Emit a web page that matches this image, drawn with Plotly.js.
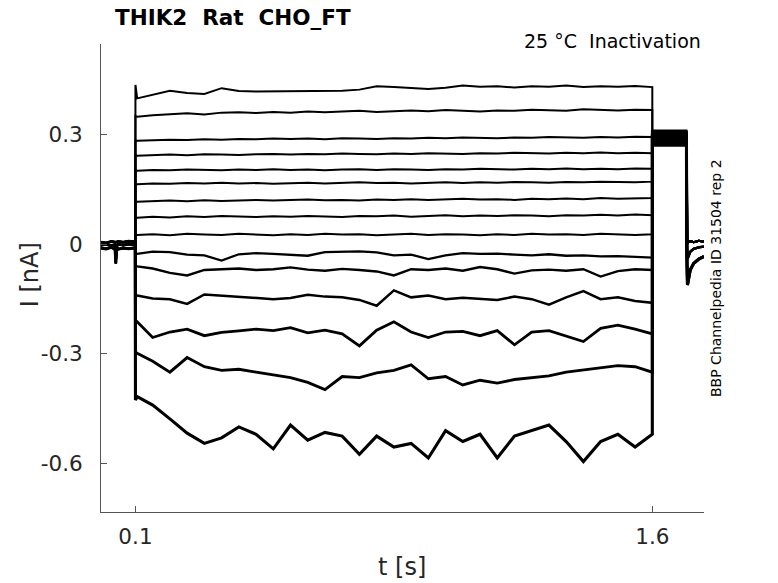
<!DOCTYPE html>
<html>
<head>
<meta charset="utf-8">
<script src="https://cdn.plot.ly/plotly-3.0.1.min.js"></script>
<style>
html, body { margin: 0; padding: 0; background: #fff; }
#graph { width: 778px; height: 583px; }
</style>
</head>
<body>
<div id="graph"></div>
<script>
// holding level before the step (three overlapping groups of sweeps)
var tPre = [0, 0.015, 0.03, 0.04, 0.043, 0.046, 0.05, 0.065, 0.08, 0.0995];
var preA = [0.006, 0.004, 0.008, 0.005, 0.006, 0.007, 0.008, 0.006, 0.009, 0.007];
var preB = [-0.002, 0.000, -0.003, -0.001, -0.052, -0.004, 0.000, -0.002, 0.001, -0.001];
var preC = [-0.010, -0.012, -0.008, -0.011, -0.014, -0.009, -0.013, -0.010, -0.012, -0.009];

// conditioning step 0.1 .. 1.6 s
var tOn = [0.1, 0.105, 0.15, 0.2, 0.25, 0.3, 0.35, 0.4, 0.45, 0.5, 0.55, 0.6, 0.65, 0.7, 0.75, 0.8,
           0.85, 0.9, 0.95, 1.0, 1.05, 1.1, 1.15, 1.2, 1.25, 1.3, 1.35, 1.4, 1.45, 1.5, 1.55, 1.6];
var i1 = [0.437, 0.400, 0.410, 0.421, 0.415, 0.412, 0.428, 0.420, 0.419, 0.419, 0.421, 0.419, 0.420, 0.421, 0.424, 0.433, 0.431, 0.428, 0.426, 0.429, 0.435, 0.432, 0.433, 0.430, 0.433, 0.432, 0.435, 0.431, 0.433, 0.432, 0.434, 0.431];
var i2 = [0.352, 0.350, 0.354, 0.357, 0.359, 0.356, 0.361, 0.362, 0.360, 0.363, 0.361, 0.364, 0.362, 0.364, 0.366, 0.363, 0.366, 0.367, 0.365, 0.368, 0.366, 0.364, 0.367, 0.366, 0.369, 0.367, 0.366, 0.370, 0.368, 0.367, 0.369, 0.368];
var i3 = [0.285, 0.284, 0.286, 0.287, 0.286, 0.288, 0.287, 0.289, 0.288, 0.290, 0.289, 0.290, 0.288, 0.291, 0.290, 0.289, 0.291, 0.290, 0.292, 0.291, 0.293, 0.292, 0.291, 0.293, 0.292, 0.294, 0.293, 0.292, 0.294, 0.293, 0.295, 0.294];
var i4 = [0.244, 0.243, 0.245, 0.246, 0.244, 0.247, 0.246, 0.245, 0.247, 0.248, 0.246, 0.248, 0.247, 0.249, 0.248, 0.247, 0.249, 0.248, 0.250, 0.249, 0.248, 0.250, 0.249, 0.251, 0.250, 0.249, 0.251, 0.250, 0.252, 0.250, 0.251, 0.250];
var i5 = [0.203, 0.202, 0.204, 0.203, 0.205, 0.204, 0.203, 0.205, 0.204, 0.206, 0.204, 0.205, 0.203, 0.205, 0.206, 0.204, 0.206, 0.205, 0.204, 0.206, 0.205, 0.207, 0.206, 0.205, 0.207, 0.206, 0.208, 0.206, 0.207, 0.206, 0.208, 0.207];
var i6 = [0.166, 0.165, 0.167, 0.166, 0.168, 0.167, 0.169, 0.167, 0.168, 0.166, 0.168, 0.169, 0.167, 0.168, 0.170, 0.168, 0.169, 0.167, 0.169, 0.170, 0.168, 0.170, 0.169, 0.171, 0.170, 0.169, 0.171, 0.170, 0.172, 0.171, 0.170, 0.172];
var i7 = [0.118, 0.117, 0.119, 0.120, 0.118, 0.121, 0.119, 0.120, 0.122, 0.120, 0.121, 0.123, 0.121, 0.122, 0.120, 0.123, 0.122, 0.124, 0.122, 0.123, 0.125, 0.123, 0.124, 0.122, 0.125, 0.124, 0.126, 0.124, 0.127, 0.125, 0.126, 0.127];
var i8 = [0.074, 0.073, 0.076, 0.074, 0.077, 0.075, 0.078, 0.076, 0.075, 0.077, 0.076, 0.078, 0.077, 0.075, 0.078, 0.077, 0.079, 0.076, 0.078, 0.080, 0.077, 0.079, 0.078, 0.080, 0.079, 0.077, 0.080, 0.079, 0.081, 0.079, 0.082, 0.080];
var i9 = [0.027, 0.026, 0.028, 0.025, 0.029, 0.027, 0.026, 0.029, 0.027, 0.025, 0.028, 0.026, 0.029, 0.027, 0.028, 0.025, 0.027, 0.029, 0.026, 0.028, 0.027, 0.025, 0.028, 0.026, 0.029, 0.027, 0.028, 0.026, 0.029, 0.027, 0.026, 0.028];
var i10 = [-0.024, -0.026, -0.020, -0.021, -0.028, -0.030, -0.044, -0.027, -0.024, -0.026, -0.029, -0.031, -0.021, -0.020, -0.019, -0.022, -0.030, -0.028, -0.040, -0.030, -0.024, -0.026, -0.025, -0.028, -0.030, -0.027, -0.031, -0.030, -0.033, -0.032, -0.035, -0.036];
var i11 = [-0.058, -0.060, -0.066, -0.078, -0.085, -0.070, -0.068, -0.066, -0.070, -0.068, -0.063, -0.069, -0.072, -0.067, -0.070, -0.074, -0.085, -0.068, -0.070, -0.066, -0.072, -0.062, -0.068, -0.080, -0.071, -0.069, -0.072, -0.068, -0.088, -0.073, -0.068, -0.070];
var i12 = [-0.138, -0.140, -0.148, -0.150, -0.163, -0.137, -0.140, -0.144, -0.146, -0.150, -0.147, -0.138, -0.143, -0.145, -0.152, -0.168, -0.126, -0.145, -0.140, -0.150, -0.146, -0.148, -0.152, -0.143, -0.150, -0.165, -0.145, -0.128, -0.150, -0.145, -0.155, -0.160];
var i13 = [-0.208, -0.212, -0.255, -0.240, -0.232, -0.250, -0.241, -0.237, -0.232, -0.236, -0.228, -0.242, -0.235, -0.245, -0.278, -0.235, -0.212, -0.240, -0.255, -0.240, -0.238, -0.250, -0.236, -0.275, -0.240, -0.236, -0.252, -0.266, -0.230, -0.221, -0.232, -0.245];
var i14 = [-0.295, -0.298, -0.320, -0.350, -0.310, -0.335, -0.345, -0.342, -0.350, -0.358, -0.365, -0.378, -0.398, -0.362, -0.365, -0.352, -0.345, -0.330, -0.368, -0.362, -0.385, -0.372, -0.380, -0.370, -0.365, -0.360, -0.350, -0.344, -0.338, -0.332, -0.335, -0.350];
var i15 = [-0.426, -0.417, -0.440, -0.478, -0.517, -0.545, -0.530, -0.500, -0.520, -0.560, -0.495, -0.536, -0.515, -0.525, -0.575, -0.525, -0.555, -0.545, -0.585, -0.510, -0.540, -0.520, -0.585, -0.525, -0.510, -0.495, -0.540, -0.595, -0.540, -0.520, -0.555, -0.520];

// test pulse 1.6 .. 1.7 s
var tPost = [1.6, 1.699];
var postLevel = [0.312, 0.305, 0.298, 0.292, 0.288, 0.284, 0.280, 0.277, 0.274, 0.271, 0.282, 0.290, 0.300, 0.308, 0.295];

// back to holding
var tTail = [1.7, 1.702, 1.71, 1.72, 1.735, 1.75];
var tailFlat = [0.008, 0.004, 0.009, 0.006, 0.010, 0.007];
var tailMid = [-0.004, -0.040, -0.020, -0.012, -0.008, -0.006];
var tailDeep = [-0.020, -0.111, -0.070, -0.052, -0.040, -0.033];

function createGraph() {
  const graph = document.querySelector('#graph');
  var sweeps = [i1, i2, i3, i4, i5, i6, i7, i8, i9, i10, i11, i12, i13, i14, i15];
  var widths = [2, 2, 2, 2, 2, 2, 2, 2, 2, 2.3, 2.4, 2.5, 2.8, 2.9, 3.1];
  var pres = [preA, preB, preC, preA, preB, preC, preA, preB, preC, preA, preB, preC, preA, preB, preC];
  var tails = [tailFlat, tailFlat, tailFlat, tailFlat, tailFlat, tailFlat, tailFlat, tailFlat, tailFlat,
               tailMid, tailMid, tailMid, tailDeep, tailDeep, tailDeep];

  var data = [];
  for (var k = 0; k < sweeps.length; k++) {
    data.push({
      x: tPre.concat(tOn, tPost, tTail),
      y: pres[k].concat(sweeps[k], [postLevel[k], postLevel[k]], tails[k]),
      type: 'scatter',
      mode: 'lines',
      line: { color: 'black', width: widths[k] },
      hoverinfo: 'skip'
    });
  }

  var axisFont = { family: 'DejaVu Sans', size: 21.5, color: '#262626' };

  var layout = {
    width: 778,
    height: 583,
    margin: { l: 101, r: 74, t: 44, b: 71 },
    paper_bgcolor: 'white',
    plot_bgcolor: 'white',
    showlegend: false,
    font: { family: 'DejaVu Sans', color: '#262626' },
    xaxis: {
      range: [0, 1.75],
      tickvals: [0.1, 1.6],
      ticktext: ['0.1', '1.6'],
      ticks: 'inside',
      ticklen: 6,
      tickcolor: '#555',
      tickfont: axisFont,
      ticklabelstandoff: 5,
      showline: true,
      linecolor: '#555',
      linewidth: 1,
      showgrid: false,
      zeroline: false
    },
    yaxis: {
      range: [-0.733, 0.549],
      tickvals: [-0.6, -0.3, 0, 0.3],
      ticktext: ['-0.6', '-0.3', '0', '0.3'],
      ticks: 'inside',
      ticklen: 6,
      tickcolor: '#555',
      tickfont: axisFont,
      ticklabelstandoff: 13,
      showline: true,
      linecolor: '#555',
      linewidth: 1,
      showgrid: false,
      zeroline: false
    },
    annotations: [
      { text: '<b>THIK2\u00a0\u00a0Rat\u00a0\u00a0CHO_FT</b>', xref: 'paper', yref: 'paper',
        x: 0.0199, y: 1.0556, xanchor: 'left', yanchor: 'middle', showarrow: false,
        font: { family: 'DejaVu Sans', size: 21.5, color: 'black' } },
      { text: '25 \u00b0C\u00a0\u00a0Inactivation', xref: 'paper', yref: 'paper',
        x: 0.998, y: 1.006, xanchor: 'right', yanchor: 'middle', showarrow: false,
        font: { family: 'DejaVu Sans', size: 19, color: 'black' } },
      { text: 'BBP Channelpedia ID 31504 rep 2', xref: 'paper', yref: 'paper',
        x: 1.0199, y: 0.5, xanchor: 'center', yanchor: 'middle', textangle: -90, showarrow: false,
        font: { family: 'DejaVu Sans', size: 14, color: 'black' } },
      { text: 'I [nA]', xref: 'paper', yref: 'paper',
        x: -0.1177, y: 0.506, xanchor: 'center', yanchor: 'middle', textangle: -90, showarrow: false,
        font: { family: 'DejaVu Sans', size: 24, color: '#262626' } },
      { text: 't [s]', xref: 'paper', yref: 'paper',
        x: 0.499, y: -0.1175, xanchor: 'center', yanchor: 'middle', showarrow: false,
        font: { family: 'DejaVu Sans', size: 24, color: '#262626' } }
    ]
  };

  var config = { displayModeBar: false, staticPlot: true };

  Plotly.newPlot(graph, data, layout, config);
}

createGraph();
</script>
</body>
</html>
